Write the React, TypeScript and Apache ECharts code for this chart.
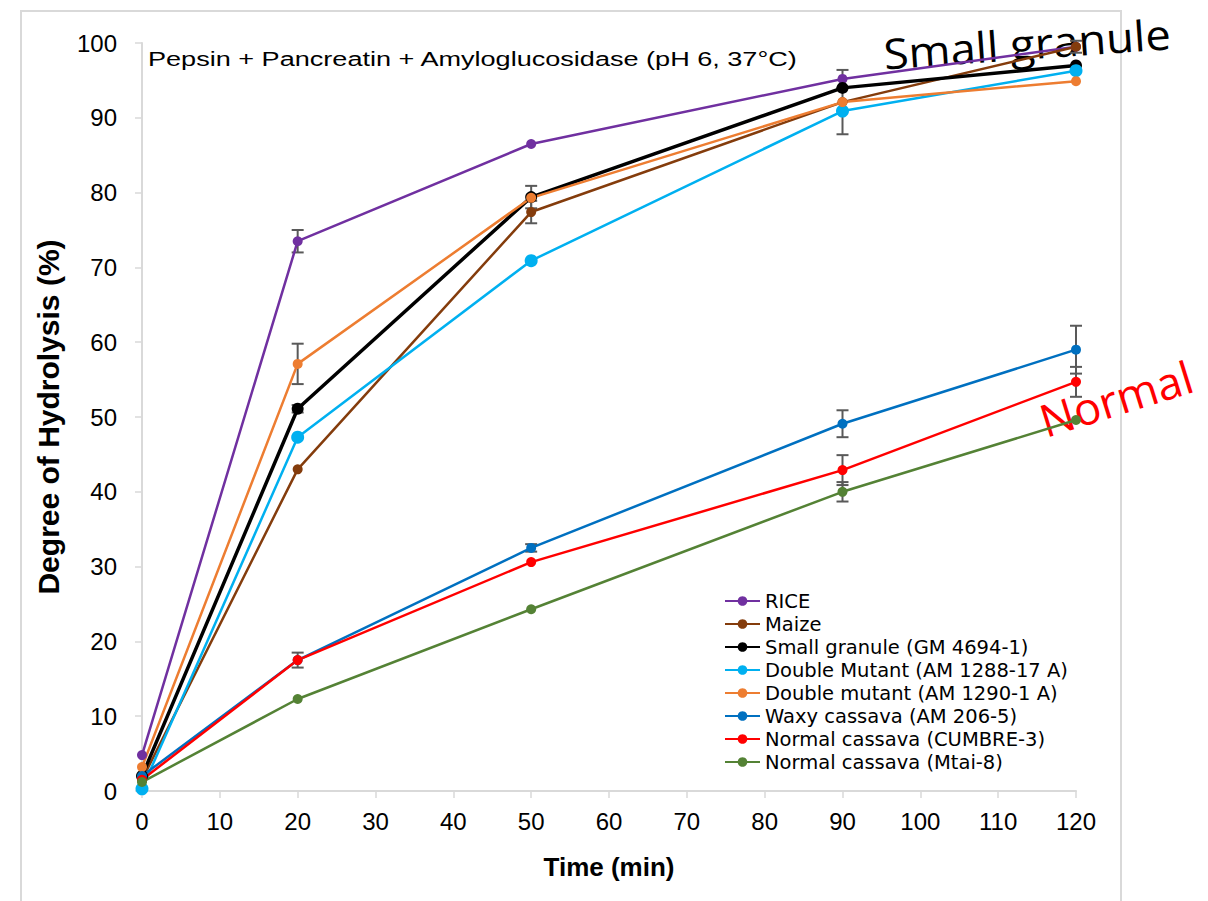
import React, { useEffect, useRef } from "react";
import * as echarts from "echarts";

const times = [0, 20, 50, 90, 120];
const xTicks = [0, 10, 20, 30, 40, 50, 60, 70, 80, 90, 100, 110, 120];

const seriesNames = [
  "RICE",
  "Maize",
  "Small granule (GM 4694-1)",
  "Double Mutant (AM 1288-17 A)",
  "Double mutant (AM 1290-1 A)",
  "Waxy cassava (AM 206-5)",
  "Normal cassava (CUMBRE-3)",
  "Normal cassava (Mtai-8)",
];
const seriesColors = ["#7030a0", "#843c0c", "#000000", "#00b0f0", "#ed7d31", "#0070c0", "#ff0000", "#548235"];

const rice = [4.8, 73.5, 86.5, 95.2, 99.5];
const maize = [1.5, 43.0, 77.4, 92.1, 99.5];
const smallGranule = [2.0, 51.1, 79.4, 94.0, 97.0];
const doubleMutant1288 = [0.3, 47.3, 70.9, 90.9, 96.3];
const doubleMutant1290 = [3.2, 57.1, 79.3, 92.1, 94.9];
const waxyCassava = [2.0, 17.5, 32.5, 49.1, 59.0];
const normalCumbre = [1.5, 17.5, 30.6, 42.9, 54.7];
const normalMtai = [1.2, 12.3, 24.3, 40.0, 49.6];

const riceErr = [0, 1.5, 0, 1.2, 0];
const maizeErr = [0, 0, 1.5, 0, 0.8];
const smallGranuleErr = [0, 0.5, 1.5, 0, 0];
const doubleMutant1288Err = [0, 0, 0, 3.1, 0];
const doubleMutant1290Err = [0, 2.7, 0, 0, 0];
const waxyCassavaErr = [0, 0, 0.5, 1.8, 3.2];
const normalCumbreErr = [0, 1.0, 0, 2.0, 2.0];
const normalMtaiErr = [0, 0, 0, 1.3, 0];

const allValues = [rice, maize, smallGranule, doubleMutant1288, doubleMutant1290, waxyCassava, normalCumbre, normalMtai];
const allErrors = [riceErr, maizeErr, smallGranuleErr, doubleMutant1288Err, doubleMutant1290Err, waxyCassavaErr, normalCumbreErr, normalMtaiErr];

export default function App() {
  const ref = useRef<HTMLDivElement>(null);
  useEffect(() => {
    if (!ref.current) return;
    document.body.style.margin = "0";
    const chart = echarts.init(ref.current, null, { renderer: "svg" });

    const errData: number[][] = [];
    allValues.forEach((vals, si) => {
      vals.forEach((v, i) => {
        const e = allErrors[si][i];
        if (e > 0) errData.push([times[i], v, e]);
      });
    });

    const lineSeries = allValues.map((vals, si) => ({
      name: seriesNames[si],
      type: "line",
      data: vals.map((v, i) => [times[i], v]),
      symbol: "circle",
      symbolSize: si === 3 ? 13 : si === 2 ? 12 : 10,
      showSymbol: true,
      lineStyle: { color: seriesColors[si], width: si === 2 ? 3.5 : 2.5 },
      itemStyle: { color: seriesColors[si] },
      z: 3,
    }));

    const font = "'Liberation Sans', Arial, sans-serif";

    chart.setOption({
      animation: false,
      backgroundColor: "#ffffff",
      textStyle: { fontFamily: font },
      grid: { left: 142, right: 132, top: 43, bottom: 110, containLabel: false },
      xAxis: {
        type: "value",
        min: 0,
        max: 120,
        interval: 10,
        name: "Time (min)",
        nameLocation: "middle",
        nameGap: 63,
        nameTextStyle: { fontSize: 26, fontWeight: "bold", color: "#000", fontFamily: font },
        axisLine: { show: true, lineStyle: { color: "#d9d9d9", width: 2 } },
        axisTick: { show: true, length: 7, lineStyle: { color: "#d9d9d9", width: 1.5 } },
        axisLabel: {
          fontSize: 24,
          color: "#000",
          margin: 18,
          fontFamily: font,
          formatter: (v: number) => (xTicks.indexOf(v) >= 0 ? String(v) : ""),
        },
        splitLine: { show: false },
      },
      yAxis: {
        type: "value",
        min: 0,
        max: 100,
        interval: 10,
        name: "Degree of Hydrolysis (%)",
        nameLocation: "middle",
        nameGap: 79,
        nameTextStyle: { fontSize: 30, fontWeight: "bold", color: "#000", fontFamily: font },
        axisLine: { show: true, lineStyle: { color: "#d9d9d9", width: 2 } },
        axisTick: { show: true, length: 7, lineStyle: { color: "#d9d9d9", width: 1.5 } },
        axisLabel: { fontSize: 24, color: "#000", margin: 25, fontFamily: font },
        splitLine: { show: false },
      },
      legend: {
        orient: "vertical",
        left: 719,
        top: 586,
        itemWidth: 35,
        itemHeight: 12,
        itemGap: 3,
        data: seriesNames,
        textStyle: { fontSize: 19.5, color: "#000", fontFamily: "'DejaVu Sans', sans-serif", lineHeight: 19.5 },
      },
      graphic: [
        {
          type: "rect",
          shape: { x: 21, y: 11, width: 1100, height: 900 },
          style: { fill: "none", stroke: "#d9d9d9", lineWidth: 2 },
          silent: true,
        },
        {
          type: "text",
          x: 148,
          y: 59,
          scaleX: 1.29,
          style: {
            text: "Pepsin + Pancreatin + Amyloglucosidase (pH 6, 37°C)",
            font: `21px ${font}`,
            fill: "#000",
            align: "left",
            verticalAlign: "middle",
          },
        },
        {
          type: "text",
          x: 1027,
          y: 43,
          rotation: 0.07,
          scaleX: 1.08,
          style: {
            text: "Small granule",
            font: `42px 'Open Sans', sans-serif`,
            fill: "#000",
            align: "center",
            verticalAlign: "middle",
          },
        },
        {
          type: "text",
          x: 1116,
          y: 398,
          rotation: 0.3,
          style: {
            text: "Normal",
            font: `45px 'Open Sans', sans-serif`,
            fill: "#ff0000",
            align: "center",
            verticalAlign: "middle",
          },
        },
      ],
      series: [
        {
          type: "custom",
          name: "errors",
          z: 2,
          data: errData,
          renderItem: (params: any, api: any) => {
            const x = api.value(0);
            const y = api.value(1);
            const e = api.value(2);
            const top = api.coord([x, y + e]);
            const bot = api.coord([x, y - e]);
            const hw = 6;
            const style = { stroke: "#595959", lineWidth: 2 };
            return {
              type: "group",
              children: [
                { type: "line", shape: { x1: top[0], y1: top[1], x2: bot[0], y2: bot[1] }, style },
                { type: "line", shape: { x1: top[0] - hw, y1: top[1], x2: top[0] + hw, y2: top[1] }, style },
                { type: "line", shape: { x1: bot[0] - hw, y1: bot[1], x2: bot[0] + hw, y2: bot[1] }, style },
              ],
            };
          },
        },
        ...lineSeries,
      ],
    });
    return () => chart.dispose();
  }, []);
  return <div ref={ref} style={{ width: 1208, height: 901 }} />;
}
